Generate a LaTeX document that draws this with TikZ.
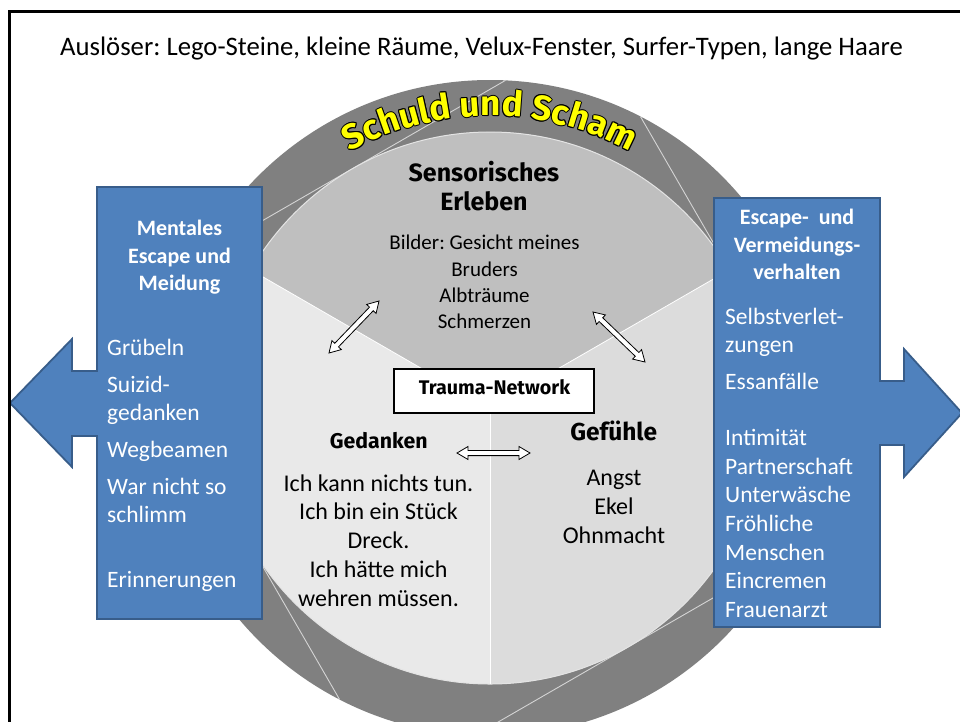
\documentclass[tikz,border=0pt]{standalone}
\usepackage{fontspec}
\setmainfont{Carlito}
\newfontfamily\headfont{Fira Sans}
\usetikzlibrary{calc,decorations.text}
\frenchspacing

\definecolor{ringgray}{HTML}{808080}
\definecolor{sensgray}{HTML}{BFBFBF}
\definecolor{thoughtgray}{HTML}{E9E9E9}
\definecolor{feelgray}{HTML}{DCDCDC}
\definecolor{bladeline}{HTML}{D4D4D4}
\definecolor{rimlight}{HTML}{E4E4E4}
\definecolor{panelblue}{HTML}{4F81BD}
\definecolor{paneledge}{HTML}{385D8A}
\definecolor{schamyellow}{HTML}{FFFF00}

\newcommand\schamfont{\headfont\bfseries\fontsize{35}{40}\selectfont}

% white block arrow with a head at both ends, between two named points
\newcommand\twoway[2]{%
  \coordinate (#1h) at ($(#1)!11pt!(#2)$);
  \coordinate (#2h) at ($(#2)!11pt!(#1)$);
  \draw[twowaystyle] (#1)
    -- ($(#1h)!6.5pt!90:(#2)$) -- ($(#1h)!2.6pt!90:(#2)$)
    -- ($(#2h)!2.6pt!-90:(#1)$) -- ($(#2h)!6.5pt!-90:(#1)$)
    -- (#2)
    -- ($(#2h)!6.5pt!90:(#1)$) -- ($(#2h)!2.6pt!90:(#1)$)
    -- ($(#1h)!2.6pt!-90:(#2)$) -- ($(#1h)!6.5pt!-90:(#2)$)
    -- cycle;}

\begin{document}
\begin{tikzpicture}[x=1pt,y=-1pt,
  blade/.style={draw=bladeline, line width=0.9pt},
  divider/.style={draw=white, line width=0.8pt},
  panel/.style={fill=panelblue, draw=paneledge, line width=1.8pt, line join=miter},
  paneltitle/.style={text=white, font=\bfseries\fontsize{22}{26}\selectfont, anchor=base, inner sep=0pt},
  paneltext/.style={text=white, font=\fontsize{23.5}{28}\selectfont, anchor=base west, inner sep=0pt},
  headline/.style={font=\headfont\bfseries\fontsize{25}{30}\selectfont, anchor=base, inner sep=0pt},
  bodyline/.style={font=\fontsize{24}{28}\selectfont, anchor=base, inner sep=0pt},
  sensline/.style={font=\fontsize{21}{25}\selectfont, anchor=base, inner sep=0pt},
  traumabox/.style={draw=black, fill=white, line width=1.2pt, minimum width=200pt, minimum height=44pt, inner sep=0pt},
  twowaystyle/.style={draw=black, fill=white, line width=0.8pt, line join=miter},
  schamtext/.style={decorate, decoration={text along path, text align=center, text color=#1,
      text={|\schamfont|Schuld und Scham}}}
]
\useasboundingbox (0,0) rectangle (960,721);
\fill[white] (0,0) rectangle (960,721);

\coordinate (C) at (490,408);

% outer ring of guilt and shame
\fill[ringgray] (C) circle[radius=328pt];
\foreach \p in {30,120,210,300}
  \draw[blade] ($(C)+(\p+32.7:328pt)$) -- ($(C)+(\p-32.7:328pt)$);

% the three sectors of the trauma network
\fill[sensgray] (C) -- ++(150:276pt) arc[start angle=150, end angle=30, radius=276pt] -- cycle;
\fill[thoughtgray] (C) -- ++(150:276pt) arc[start angle=150, end angle=270, radius=276pt] -- cycle;
\fill[feelgray] (C) -- ++(270:276pt) arc[start angle=270, end angle=390, radius=276pt] -- cycle;
\draw[rimlight, line width=1pt] (C) circle[radius=276pt];
\draw[divider] (C) -- ++(150:276pt);
\draw[divider] (C) -- ++(30:276pt);
\draw[divider] (C) -- ++(270:276pt);

% curved title: black copies for the outline, yellow on top
\foreach \a in {0,45,...,315}{
  \begin{scope}[shift={(\a:1.0pt)}]
    \path[schamtext=black] (263.1,224.2) arc[start angle=141, end angle=39, radius=292pt];
  \end{scope}}
\path[schamtext=schamyellow] (263.1,224.2) arc[start angle=141, end angle=39, radius=292pt];

% side panels with their arrows
\path[panel] (262,187) -- (97,187) -- (97,371) -- (72,371) -- (72,339) -- (10,403)
  -- (72,467) -- (72,436) -- (97,436) -- (97,619) -- (262,619) -- cycle;
\path[panel] (714,198) -- (880,198) -- (880,381) -- (904,381) -- (904,349) -- (962,413)
  -- (904,477) -- (904,445) -- (880,445) -- (880,627) -- (714,627) -- cycle;

\node[paneltitle] (lt1) at (179.5,235.5) {Mentales};
\node[paneltitle] (lt2) at (179.5,263.5) {Escape und};
\node[paneltitle] (lt3) at (179.5,290.5) {Meidung};
\foreach \t/\yy [count=\i] in {Grübeln/355.5, Suizid-/392.5, gedanken/420.5, Wegbeamen/457.5,
    War nicht so/494.5, schlimm/522.5, Erinnerungen/587.5}
  \node[paneltext] (mental\i) at (107,\yy) {\t};

\node[paneltitle] (rt1) at (797,224.5) {Escape-\ \ und};
\node[paneltitle] (rt2) at (797,252.5) {Vermeidungs-};
\node[paneltitle] (rt3) at (797,279.5) {verhalten};
\foreach \t/\yy [count=\i] in {Selbstverlet-/324.5, zungen/352.5, Essanfälle/389.5,
    Intimität/445.5, Partnerschaft/474.5, Unterwäsche/502.5, Fröhliche/531.5,
    Menschen/560.5, Eincremen/588.5, Frauenarzt/617.5}
  \node[paneltext] (behav\i) at (725,\yy) {\t};

% sensory sector
\node[headline] (sens1) at (484,181.5) {Sensorisches};
\node[headline] (sens2) at (484,210.5) {Erleben};
\foreach \t/\yy [count=\i] in {Bilder: Gesicht meines/249.5, Bruders/276, Albträume/302, Schmerzen/328}
  \node[sensline] (sensitem\i) at (484.5,\yy) {\t};

% thoughts sector
\node[headline, font=\headfont\bfseries\fontsize{21.3}{26}\selectfont] (thought) at (378.7,448.5) {Gedanken};
\foreach \t/\yy [count=\i] in {Ich kann nichts tun./491, Ich bin ein Stück/519, Dreck./548,
    Ich hätte mich/577, wehren müssen./606}
  \node[bodyline] (thoughtitem\i) at (378.5,\yy) {\t};

% feelings sector
\node[headline, font=\headfont\bfseries\fontsize{24.5}{29}\selectfont] (feel) at (613.7,440.5) {Gefühle};
\foreach \t/\yy [count=\i] in {Angst/485, Ekel/514, Ohnmacht/543}
  \node[bodyline] (feelitem\i) at (614,\yy) {\t};

% centre label
\node[traumabox] (trauma) at (494,391) {};
\node[headline, font=\headfont\bfseries\fontsize{19.7}{24}\selectfont] (traumalabel) at (494.5,394) {Trauma-Network};

% links between the sectors
\coordinate (a1) at (329,353); \coordinate (b1) at (379,301);
\coordinate (a2) at (593,312); \coordinate (b2) at (645,362);
\coordinate (a3) at (457,453); \coordinate (b3) at (530,453);
\twoway{a1}{b1}
\twoway{a2}{b2}
\twoway{a3}{b3}

% triggers line
\node[font=\fontsize{26.7}{32}\selectfont, anchor=base west, inner sep=0pt] (trigger) at (60,55.5)
  {Auslöser: Lego-Steine, kleine Räume, Velux-Fenster, Surfer-Typen, lange Haare};

% slide frame
\draw[line width=3pt] (9.5,730) -- (9.5,11.5) -- (970,11.5);
\end{tikzpicture}
\end{document}
